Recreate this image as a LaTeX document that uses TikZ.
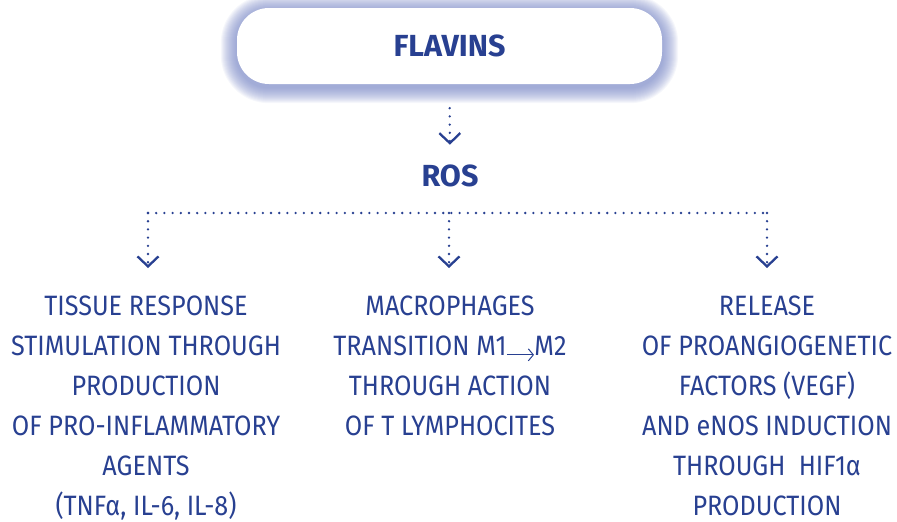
\documentclass[tikz,border=0pt]{standalone}
\usepackage{fontspec}
\setmainfont{Fira Sans}[FakeStretch=0.9]
\newfontfamily\titlefont{Fira Sans}
\usetikzlibrary{arrows.meta,backgrounds}
\definecolor{navy}{RGB}{40,64,145}
\definecolor{glowc}{RGB}{115,130,195}
\newcommand{\mtomarrow}{\tikz[baseline=0pt]\draw[navy,line width=1pt,-{Straight Barb[length=5pt,width=12pt,line width=1pt]}] (0pt,1pt) -- (27pt,1pt);}
\tikzset{
  title/.style={font=\titlefont\fontsize{30.5}{34}\selectfont\bfseries, text=navy, inner sep=0pt},
  body/.style={font=\fontsize{28}{40}\selectfont, text=navy, align=center, inner sep=0pt, anchor=north},
  dotline/.style={navy, line width=2.6pt, line cap=round, dash pattern=on 0pt off 8.2pt},
  dotarrow/.style={dotline, -{Straight Barb[length=10pt,width=21pt,line width=2.3pt]}},
}
\begin{document}
\begin{tikzpicture}[x=1pt,y=-1pt]
\useasboundingbox (0,0) rectangle (897,522);
\node[fill=white, minimum width=425pt, minimum height=76pt, rounded corners=32pt, inner sep=0pt] (box) at (449.5,46) {};
\node[title] (flav) at (box.center) {FLAVINS};
\begin{scope}[on background layer]
\foreach \i in {1,...,16}{
  \pgfmathsetmacro\rr{32+\i}
  \fill[glowc, opacity=0.065, rounded corners=\rr pt]
    ([shift={(-\i pt,-\i pt-3pt)}]box.south west) rectangle ([shift={(\i pt,\i pt-3pt)}]box.north east);
}
\end{scope}
\node[title] (ros) at (450,176) {ROS};
\draw[dotarrow, shorten <=24pt, shorten >=20pt] (box.south) -- (ros.north);
\coordinate (hm) at (449,213);
\coordinate (hl) at (148,213);
\coordinate (hr) at (767,213);
\draw[dotline] (hl) -- (hr);
\node[body] (t1) at (146,296) {TISSUE RESPONSE\\STIMULATION THROUGH\\PRODUCTION\\OF PRO-INFLAMMATORY\\AGENTS\\(TNFα, IL-6, IL-8)};
\node[body] (t2) at (450,296) {MACROPHAGES\\TRANSITION M1\mtomarrow M2\\THROUGH ACTION\\OF T LYMPHOCITES};
\node[body] (t3) at (767,296) {RELEASE\\OF PROANGIOGENETIC\\FACTORS (VEGF)\\AND eNOS INDUCTION\\THROUGH\ \ HIF1α\\PRODUCTION};
\draw[dotarrow, shorten >=28pt] (hl) -- (hl |- t1.north);
\draw[dotarrow, shorten >=28pt] (hm) -- (hm |- t2.north);
\draw[dotarrow, shorten >=28pt] (hr) -- (hr |- t3.north);
\end{tikzpicture}
\end{document}
